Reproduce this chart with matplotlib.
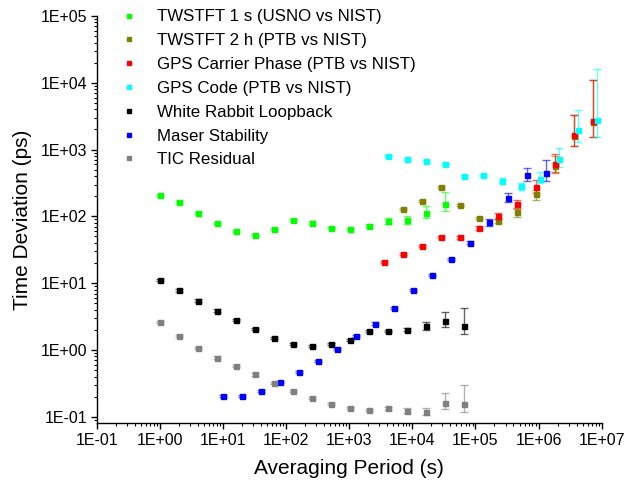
import matplotlib
matplotlib.use("Agg")
import matplotlib.pyplot as plt
import numpy as np

plt.rcParams['font.family'] = ['Liberation Sans', 'DejaVu Sans']

# TWSTFT 1 s (USNO vs NIST)
tw1_x = [1, 2, 4, 8, 16, 32, 64, 128, 256, 512, 1024, 2048, 4096, 8192, 16384, 32768]
tw1_y = [209, 163, 111, 80, 60, 53, 64, 89, 81, 68, 64, 73, 85, 88, 114, 152]
tw1_lo = [201, 157, 107, 77, 58, 51, 62, 86, 78, 66, 62, 70, 76, 77, 96, 120]
tw1_hi = [217, 169, 115, 83, 62, 55, 66, 92, 84, 70, 66, 76, 94, 101, 145, 234]

# TWSTFT 2 h (PTB vs NIST)
tw2_x = [7200, 14400, 28800, 57600, 115200, 230400, 460800, 921600, 1843200, 3686400, 7372800]
tw2_y = [130, 172, 279, 147, 93.7, 85.3, 115, 216, 560, 1600, 2600]
tw2_lo = [125, 165, 268, 141, 90, 80, 99, 176, 440, 1130, 1520]
tw2_hi = [135, 179, 290, 153, 97.5, 91, 128, 248, 800, 3280, 11000]

# GPS Carrier Phase (PTB vs NIST)
gcp_x = [3600, 7200, 14400, 28800, 57600, 115200, 230400, 460800, 921600, 1843200, 3686400, 7372800]
gcp_y = [20.8, 27.1, 36.1, 49.7, 48.6, 66.4, 102, 153, 279, 602, 1671, 2654]
gcp_lo = [20, 26, 34.7, 47.7, 46.6, 62, 90.5, 132, 226, 462, 1132, 1528]
gcp_hi = [21.6, 28.2, 37.5, 51.7, 50.6, 71, 111, 176, 351, 851, 3262, 11020]

# GPS Code (PTB vs NIST)
gc_x = [4096, 8192, 16384, 32768, 65536, 131072, 262144, 524288, 1048576, 2097152, 4194304, 8388608]
gc_y = [811, 723, 675, 608, 406, 421, 342, 288, 363, 716, 1945, 2773]
gc_lo = [780, 695, 650, 585, 390, 405, 312, 248, 319, 543, 1285, 1528]
gc_hi = [843, 752, 700, 632, 422, 438, 380, 319, 467, 1045, 3917, 15920]

# White Rabbit Loopback
wr_x = [1, 2, 4, 8, 16, 32, 64, 128, 256, 512, 1024, 2048, 4096, 8192, 16384, 32768, 65536]
wr_y = [11.0, 7.8, 5.5, 3.9, 2.81, 2.08, 1.53, 1.22, 1.14, 1.24, 1.42, 1.91, 1.91, 2.01, 2.26, 2.72, 2.26]
wr_lo = [10.6, 7.5, 5.3, 3.75, 2.7, 2.0, 1.47, 1.17, 1.09, 1.19, 1.36, 1.83, 1.83, 1.9, 1.99, 2.23, 1.74]
wr_hi = [11.4, 8.1, 5.7, 4.05, 2.92, 2.16, 1.59, 1.27, 1.19, 1.29, 1.48, 1.99, 1.99, 2.12, 2.65, 3.74, 4.21]

# Maser Stability
ms_x = [10, 20, 40, 80, 160, 320, 640, 1280, 2560, 5120, 10240, 20480, 40960, 81920,
        163840, 327680, 655360, 1310720]
ms_y = [0.207, 0.203, 0.246, 0.328, 0.469, 0.692, 1.04, 1.62, 2.48, 4.30, 7.9, 13.3, 22.8,
        40.4, 81.6, 187, 412, 442]
ms_lo = [0.199, 0.195, 0.236, 0.315, 0.45, 0.664, 1.0, 1.56, 2.38, 4.13, 7.6, 12.8, 21.9,
         38.5, 73, 165, 342, 342]
ms_hi = [0.215, 0.211, 0.256, 0.341, 0.488, 0.72, 1.08, 1.68, 2.58, 4.47, 8.2, 13.8, 23.7,
         42.5, 90, 222, 536, 698]

# TIC Residual
tic_x = [1, 2, 4, 8, 16, 32, 64, 128, 256, 512, 1024, 2048, 4096, 8192, 16384, 32768, 65536]
tic_y = [2.60, 1.64, 1.06, 0.77, 0.575, 0.43, 0.32, 0.24, 0.19, 0.154, 0.134, 0.126, 0.134,
         0.122, 0.119, 0.159, 0.156]
tic_lo = [2.5, 1.58, 1.02, 0.74, 0.553, 0.413, 0.308, 0.231, 0.183, 0.148, 0.129, 0.121, 0.128,
          0.113, 0.106, 0.132, 0.119]
tic_hi = [2.7, 1.7, 1.1, 0.8, 0.597, 0.447, 0.332, 0.249, 0.197, 0.16, 0.139, 0.131, 0.14,
          0.134, 0.134, 0.225, 0.296]

series = [
    ("TWSTFT 1 s (USNO vs NIST)", tw1_x, tw1_y, tw1_lo, tw1_hi, "#00ff00"),
    ("TWSTFT 2 h (PTB vs NIST)", tw2_x, tw2_y, tw2_lo, tw2_hi, "#808000"),
    ("GPS Carrier Phase (PTB vs NIST)", gcp_x, gcp_y, gcp_lo, gcp_hi, "#ff0000"),
    ("GPS Code (PTB vs NIST)", gc_x, gc_y, gc_lo, gc_hi, "#00ffff"),
    ("White Rabbit Loopback", wr_x, wr_y, wr_lo, wr_hi, "#000000"),
    ("Maser Stability", ms_x, ms_y, ms_lo, ms_hi, "#0000ff"),
    ("TIC Residual", tic_x, tic_y, tic_lo, tic_hi, "#808080"),
]

fig = plt.figure(figsize=(6.27, 4.91), dpi=100)
ax = fig.add_axes([0.1542, 0.1385, 0.8055, 0.8289])

handles = []
for label, x, y, lo, hi, col in series:
    y = np.array(y)
    yerr = [y - np.array(lo), np.array(hi) - y]
    cont = ax.errorbar(x, y, yerr=yerr, fmt='s', ms=3.6, color=col, mec=col,
                       ecolor=col, elinewidth=1, capsize=3.2, capthick=1, label=label)
    for c in cont[1]:
        c.set_alpha(0.6)
    for b in cont[2]:
        b.set_alpha(0.6)
    handles.append(cont[0])

ax.set_xscale('log')
ax.set_yscale('log')
ax.set_xlim(1e-1, 1e7)
ax.set_ylim(0.0807, 1e5)

ax.set_xticks([10.0 ** k for k in range(-1, 8)])
ax.set_xticklabels(["1E-01", "1E+00", "1E+01", "1E+02", "1E+03", "1E+04", "1E+05", "1E+06", "1E+07"])
ax.set_yticks([10.0 ** k for k in range(-1, 6)])
ax.set_yticklabels(["1E-01", "1E+00", "1E+01", "1E+02", "1E+03", "1E+04", "1E+05"])

ax.tick_params(which='major', direction='out', length=4, width=1, labelsize=11.5, pad=3)
ax.tick_params(which='minor', direction='out', length=2.2, width=0.8)

for s in ['top', 'right']:
    ax.spines[s].set_visible(False)
for s in ['left', 'bottom']:
    ax.spines[s].set_linewidth(1.0)

ax.set_xlabel("Averaging Period (s)", fontsize=15, labelpad=8)
ax.set_ylabel("Time Deviation (ps)", fontsize=15, labelpad=6)

leg = ax.legend(handles=handles, labels=[s[0] for s in series],
                loc='upper left', bbox_to_anchor=(121 / 627, 1 - 9.5 / 491),
                bbox_transform=fig.transFigure, frameon=False, fontsize=12.2,
                handlelength=0.9, handletextpad=1.2, borderpad=0, borderaxespad=0,
                labelspacing=0.52, markerscale=0.9)

fig.savefig("out.png", dpi=100)
